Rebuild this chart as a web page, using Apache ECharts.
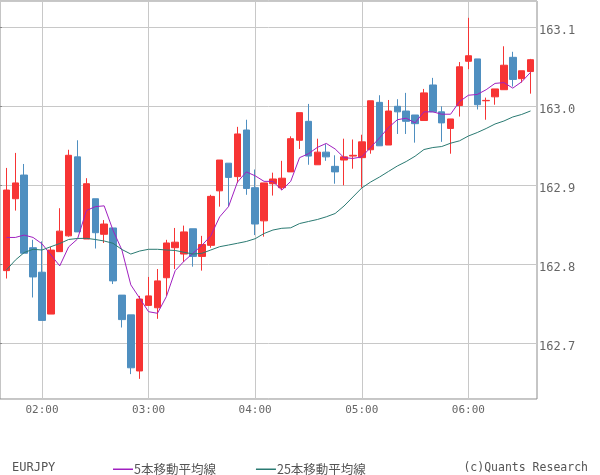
<!DOCTYPE html>
<html><head><meta charset="utf-8">
<script src="https://cdn.jsdelivr.net/npm/echarts@6/dist/echarts.min.js"></script>
<style>html,body{margin:0;padding:0;background:#fff}#c{width:600px;height:475px}</style>
</head><body><div id="c"></div>
<script>
const times = [];
(function(){ for (let m = 100; m <= 395; m += 5) { const h = Math.floor(m/60), mm = m%60; times.push(String(h).padStart(2,'0') + ':' + String(mm).padStart(2,'0')); } })();

const opens = [162.792,162.883,162.913,162.821,162.790,162.737,162.816,162.836,162.936,162.832,
162.883,162.838,162.846,162.761,162.736,162.665,162.748,162.745,162.783,162.821,
162.813,162.845,162.810,162.824,162.893,162.928,162.911,162.970,162.897,162.855,
162.902,162.897,162.917,162.957,162.981,162.926,162.942,162.924,162.932,162.937,
162.935,162.945,163.005,162.951,163.000,162.994,162.989,162.982,163.027,162.993,
162.972,163.001,163.057,163.060,163.007,163.012,163.021,163.062,163.035,163.044];
const closes = [162.894,162.903,162.814,162.784,162.729,162.818,162.842,162.938,162.841,162.902,
162.840,162.851,162.779,162.730,162.669,162.756,162.760,162.779,162.827,162.828,
162.841,162.810,162.825,162.886,162.932,162.910,162.965,162.896,162.851,162.903,
162.908,162.909,162.959,162.992,162.937,162.942,162.936,162.917,162.936,162.938,
162.955,163.007,162.950,162.994,162.993,162.981,162.978,163.017,162.993,162.979,
162.984,163.050,163.064,163.002,163.0075,163.022,163.052,163.034,163.045,163.059];
const lows = [162.782,162.868,162.814,162.758,162.729,162.737,162.816,162.835,162.841,162.832,
162.820,162.827,162.775,162.720,162.661,162.655,162.748,162.731,162.760,162.794,
162.803,162.797,162.792,162.821,162.873,162.873,162.903,162.888,162.837,162.835,
162.887,162.894,162.917,162.946,162.926,162.926,162.931,162.902,162.900,162.921,
162.897,162.940,162.950,162.951,162.965,162.965,162.954,162.982,162.993,162.955,
162.940,162.987,163.047,162.996,162.983,163.002,163.021,163.025,163.030,163.016];
const highs = [162.922,162.941,162.927,162.831,162.829,162.822,162.871,162.945,162.957,162.909,
162.883,162.856,162.846,162.761,162.736,162.760,162.784,162.794,162.831,162.846,
162.849,162.845,162.836,162.888,162.932,162.928,162.974,162.983,162.920,162.903,
162.916,162.931,162.962,162.992,163.003,162.959,162.952,162.938,162.959,162.958,
162.964,163.007,163.014,163.008,163.009,163.017,162.989,163.022,163.036,163.000,
162.984,163.056,163.112,163.060,163.011,163.022,163.076,163.069,163.045,163.060];
const ma5 = [162.834,162.834,162.837,162.834,162.826,162.812,162.798,162.822,162.832,162.868,
162.873,162.874,162.843,162.818,162.774,162.757,162.740,162.738,162.759,162.792,
162.804,162.814,162.824,162.836,162.860,162.873,162.904,162.917,162.912,162.905,
162.905,162.894,162.905,162.935,162.940,162.948,162.953,162.946,162.935,162.934,
162.936,162.948,162.960,162.973,162.983,162.985,162.979,162.993,162.993,162.990,
162.990,163.006,163.014,163.015,163.021,163.029,163.030,163.023,163.031,163.043];
const ma25 = [162.7928,162.8053,162.8149,162.8190,162.8181,162.8223,162.8263,162.8314,162.8327,162.8329,
162.8314,162.8295,162.8266,162.8187,162.8130,162.8168,162.8190,162.8190,162.8181,162.8175,
162.8152,162.8130,162.8139,162.8181,162.8223,162.8244,162.8266,162.8289,162.8324,162.8390,
162.8434,162.8456,162.8462,162.8516,162.8542,162.8567,162.8601,162.8643,162.8738,162.8852,
162.8966,162.9042,162.9105,162.9175,162.9244,162.9301,162.9368,162.9453,162.9478,162.9491,
162.9533,162.9563,162.9624,162.9668,162.9719,162.9776,162.9814,162.9865,162.9897,162.9941];

const yMin = 162.6295, yMax = 163.1333;
const candles = opens.map((o, i) => [o, closes[i], lows[i], highs[i]]);
const isHour = (idx) => times[idx].endsWith(':00');
const MONO = '"DejaVu Sans Mono", "Liberation Mono", monospace';

const chart = echarts.init(document.getElementById('c'), null, {renderer: 'canvas'});
chart.setOption({
  animation: false,
  backgroundColor: '#fff',
  title: [
    {text: 'EURJPY', left: 7, top: 457, textStyle: {fontFamily: MONO, fontSize: 12, fontWeight: 'normal', color: '#555'}},
    {text: '(c)Quants Research', right: 7, top: 457, textStyle: {fontFamily: MONO, fontSize: 11.5, fontWeight: 'normal', color: '#555'}}
  ],
  legend: {
    left: 108, top: 458, itemGap: 40, itemWidth: 20, itemHeight: 1.5, icon: 'rect',
    textStyle: {fontFamily: '"Noto Sans CJK JP", sans-serif', fontSize: 12.5, color: '#555', padding: [0,0,0,-4]},
    data: ['5本移動平均線', '25本移動平均線']
  },
  grid: [
    {left: 2, right: 65, top: 1, bottom: 76, show: false},
    {left: 0, right: 63, top: 1, bottom: 76, show: true, borderColor: '#8c8c8c', borderWidth: 1, backgroundColor: 'transparent'}
  ],
  xAxis: [
    {type: 'category', gridIndex: 0, data: times, boundaryGap: true,
     axisLine: {show: false}, axisTick: {show: false},
     axisLabel: {interval: (idx) => isHour(idx), fontFamily: MONO, fontSize: 11, color: '#666', margin: 6},
     splitLine: {show: true, interval: (idx) => isHour(idx), alignWithLabel: true, lineStyle: {color: '#c8c8c8', width: 1}}},
    {type: 'value', gridIndex: 1, show: false, min: 0, max: 1}
  ],
  yAxis: [
    {type: 'value', gridIndex: 0, min: yMin, max: yMax, show: false, splitLine: {show: false}},
    {type: 'value', gridIndex: 1, min: yMin, max: yMax, position: 'right',
     axisLine: {show: false}, axisTick: {show: true, length: 2, lineStyle: {color: '#888'}},
     axisLabel: {showMinLabel: false, showMaxLabel: false, fontFamily: MONO, fontSize: 12, color: '#666', margin: 2,
       verticalAlign: 'top', lineHeight: 8, formatter: (v) => v.toFixed(1)},
     splitLine: {show: true, lineStyle: {color: '#c8c8c8', width: 1}}}
  ],
  series: [
    {type: 'candlestick', name: 'EURJPY', xAxisIndex: 0, yAxisIndex: 0, data: candles, barWidth: 7,
     itemStyle: {color: '#f73434', color0: '#4f8fc0', borderColor: '#f73434', borderColor0: '#4f8fc0', borderWidth: 1}},
    {type: 'line', name: '5本移動平均線', xAxisIndex: 0, yAxisIndex: 0, data: ma5, showSymbol: false, symbol: 'none',
     lineStyle: {color: '#a020c0', width: 1}, itemStyle: {color: '#a020c0'}},
    {type: 'line', name: '25本移動平均線', xAxisIndex: 0, yAxisIndex: 0, data: ma25, showSymbol: false, symbol: 'none',
     lineStyle: {color: '#2a7a72', width: 1}, itemStyle: {color: '#2a7a72'}}
  ]
});
</script></body></html>
